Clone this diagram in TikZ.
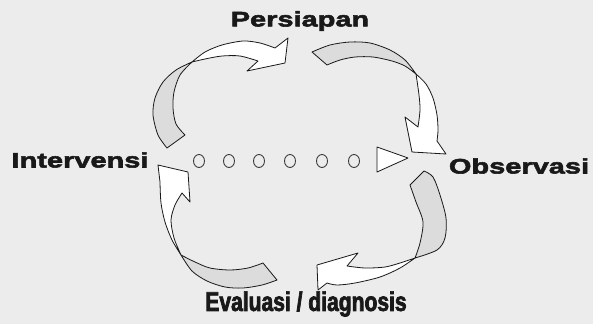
\documentclass[tikz,border=0pt]{standalone}
\usepackage{fontspec}
\usetikzlibrary{shapes.geometric}
\newfontfamily\widefont{Liberation Sans Bold}[FakeBold=2.6,FakeStretch=1.38]
\newfontfamily\narrowfont{Liberation Sans Bold}[FakeBold=2.6,FakeStretch=0.78]
\definecolor{bg}{RGB}{236,236,236}
\definecolor{ink}{RGB}{25,25,25}
\definecolor{tailgray}{RGB}{220,220,220}
\begin{document}
\begin{tikzpicture}[x=1pt,y=-1pt,
  band/.style={draw=ink,line width=0.8pt,line join=round,fill=white},
  back/.style={draw=ink,line width=0.8pt,line join=round,fill=tailgray},
  lbl/.style={text=ink,inner sep=0pt},
  dot/.style={draw=ink!85,line width=0.9pt,ellipse,minimum width=11pt,minimum height=13pt,inner sep=0pt}
]
\fill[bg] (0,0) rectangle (593,324);
\useasboundingbox (0,0) rectangle (593,324);

% labels
\node[lbl,font=\widefont\fontsize{21}{24}\selectfont] (persiapan) at (300,21) {Persiapan};
\node[lbl,font=\widefont\fontsize{21}{24}\selectfont] (intervensi) at (80,160) {Intervensi};
\node[lbl,font=\widefont\fontsize{21}{24}\selectfont] (observasi) at (519,166) {Observasi};
\node[lbl,font=\narrowfont\fontsize{27}{30}\selectfont] (evaluasi) at (306,304) {Evaluasi / diagnosis};

% dotted line with triangle
\foreach \i/\x in {1/199,2/229,3/259,4/290,5/322,6/354}
  \node[dot] (d\i) at (\x,161) {};
\draw[draw=ink,line width=0.8pt,line join=round,fill=white] (377,147) -- (408,158) -- (377,172) -- cycle;

% top-left arrow
\path[back] (167,148) -- (185,135)
  -- plot[smooth] coordinates {(185,135) (176,124) (173,108) (174,92) (180,75) (192,62)}
  -- plot[smooth] coordinates {(192,62) (176,70) (163,82) (155,98) (153,115) (158,135) (167,148)}
  -- cycle;
\path[band] (192,62)
  -- plot[smooth] coordinates {(192,62) (205,52) (222,45) (243,41) (260,43) (275,48)}
  -- (288,38) -- (285,63) -- (247,71) -- (258,61)
  -- plot[smooth] coordinates {(258,61) (240,56) (222,56) (205,59) (192,62)}
  -- cycle;

% top-right arrow
\path[back] (312,52) -- (327,65)
  -- plot[smooth] coordinates {(327,65) (340,60) (355,57) (373,57) (392,61) (405,66) (416,74)}
  -- plot[smooth] coordinates {(416,74) (405,60) (390,50) (370,43) (350,42) (330,45) (312,52)}
  -- cycle;
\path[band] (416,74)
  -- plot[smooth] coordinates {(416,74) (426,84) (433,98) (437,115) (438,130) (437,141)}
  -- (446,154) -- (412,152) -- (405,117) -- (418,127)
  -- plot[smooth] coordinates {(418,127) (420,110) (419,95) (416,74)}
  -- cycle;

% bottom-right arrow
\path[back] (410,185) -- (424,171)
  -- plot[smooth] coordinates {(424,171) (433,177) (440,195) (446,218) (445,238) (437,250) (415,258)}
  -- plot[smooth] coordinates {(415,258) (420,243) (423,222) (416,202) (410,185)}
  -- cycle;
\path[band] (415,258)
  -- plot[smooth] coordinates {(415,258) (400,268) (380,277) (355,283) (337,285) (327,283)}
  -- (318,290) -- (317,265) -- (358,253) -- (347,266)
  -- plot[smooth] coordinates {(347,266) (365,268) (385,267) (400,263) (415,258)}
  -- cycle;

% bottom-left arrow
\path[back] (263,263) -- (277,280)
  -- plot[smooth] coordinates {(277,280) (262,285) (243,288) (225,287) (207,281) (192,271) (181,255)}
  -- plot[smooth] coordinates {(181,255) (195,262) (210,268) (230,270) (248,268) (263,263)}
  -- cycle;
\path[band] (181,255)
  -- plot[smooth] coordinates {(181,255) (172,240) (165,222) (161,203) (160,182)}
  -- (158,165) -- (188,172) -- (190,202) -- (182,193)
  -- plot[smooth] coordinates {(182,193) (175,205) (171,220) (174,238) (181,255)}
  -- cycle;
\end{tikzpicture}
\end{document}
